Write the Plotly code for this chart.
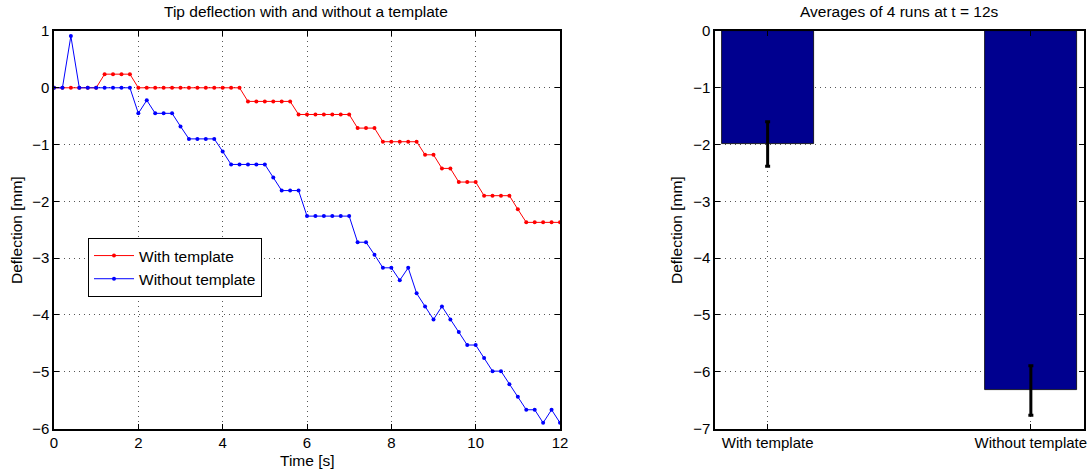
import numpy as np
import plotly.graph_objects as go

# ---- data ----
time_s = [round(0.2 * i, 1) for i in range(61)]

with_template = (
    [0, 0, 0, 0, 0, 0] +                      # 0.0-1.0
    [0.24, 0.24, 0.24, 0.24] +                # 1.2-1.8
    [0] * 13 +                                # 2.0-4.4
    [-0.24] * 6 +                             # 4.6-5.6
    [-0.47] * 7 +                             # 5.8-7.0
    [-0.71] * 3 +                             # 7.2-7.6
    [-0.95] * 5 +                             # 7.8-8.6
    [-1.18] * 2 +                             # 8.8-9.0
    [-1.42] * 2 +                             # 9.2-9.4
    [-1.66] * 3 +                             # 9.6-10.0
    [-1.90] * 4 +                             # 10.2-10.8
    [-2.14] +                                 # 11.0
    [-2.37] * 5                               # 11.2-12.0
)

without_template = [
    0, 0, 0.91, 0, 0, 0, 0, 0, 0, 0,          # 0.0-1.8
    -0.45, -0.22, -0.45, -0.45, -0.45,        # 2.0-2.8
    -0.68, -0.90, -0.90, -0.90, -0.90,        # 3.0-3.8
    -1.12, -1.35, -1.35, -1.35, -1.35, -1.35, # 4.0-5.0
    -1.58, -1.81, -1.81, -1.81,               # 5.2-5.8
    -2.26, -2.26, -2.26, -2.26, -2.26, -2.26, # 6.0-7.0
    -2.72, -2.72, -2.94, -3.17, -3.17,        # 7.2-8.0
    -3.39, -3.17, -3.62, -3.85, -4.08,        # 8.2-9.0
    -3.85, -4.08, -4.30, -4.53, -4.53,        # 9.2-10.0
    -4.76, -4.99, -4.99, -5.22, -5.44,        # 10.2-11.0
    -5.67, -5.67, -5.90, -5.67, -5.90,        # 11.2-12.0
]

bar_categories = ["With template", "Without template"]
bar_positions = [1, 2]
bar_means = [-1.99, -6.33]
bar_errors = [0.39, 0.435]

x_ticks = [0, 2, 4, 6, 8, 10, 12]
y_ticks_left = [-6, -5, -4, -3, -2, -1, 0, 1]
y_ticks_right = [-7, -6, -5, -4, -3, -2, -1, 0]

# ---- figure ----
W, H = 1089, 473
FONT = "Liberation Sans, Arial, Helvetica, sans-serif"

fig = go.Figure()

fig.add_trace(go.Scatter(
    x=time_s, y=with_template, mode="lines+markers", name="With template",
    line=dict(color="#ff0000", width=1), marker=dict(color="#ff0000", size=4),
    xaxis="x", yaxis="y"))
fig.add_trace(go.Scatter(
    x=time_s, y=without_template, mode="lines+markers", name="Without template",
    line=dict(color="#0000ff", width=1), marker=dict(color="#0000ff", size=4),
    xaxis="x", yaxis="y"))

fig.add_trace(go.Bar(
    x=bar_positions, y=bar_means, width=0.35, showlegend=False,
    marker=dict(color="#00008f", line=dict(color="#000000", width=0.8)),
    error_y=dict(type="data", array=bar_errors, color="#000000", thickness=3, width=2.5),
    xaxis="x2", yaxis="y2"))

def px_x(p):
    return p / W

def px_y(p):
    return 1 - p / H

grid = dict(showgrid=True, gridcolor="#555555", gridwidth=1, griddash="1px,4px")
common = dict(showline=True, linecolor="#000000", linewidth=1.5, mirror="ticks",
              ticks="inside", ticklen=5, tickcolor="#000000", zeroline=False,
              automargin=False,
              tickfont=dict(family=FONT, size=15, color="#000000"), **grid)

fig.update_layout(
    width=W, height=H,
    margin=dict(l=0, r=0, t=0, b=0, autoexpand=False),
    paper_bgcolor="white", plot_bgcolor="white",
    font=dict(family=FONT, size=15, color="#000000"),
    bargap=0,
    hovermode=False,
    xaxis=dict(domain=[px_x(54), px_x(560)], range=[0, 12], tickvals=x_ticks,
               anchor="y", **common),
    yaxis=dict(domain=[px_y(428.5), px_y(31)], range=[-6, 1], tickvals=y_ticks_left,
               anchor="x", **common),
    xaxis2=dict(domain=[px_x(715), px_x(1083.5)], range=[0.8, 2.2],
                tickvals=bar_positions, ticktext=bar_categories, anchor="y2", **common),
    yaxis2=dict(domain=[px_y(428.5), px_y(31)], range=[-7, 0], tickvals=y_ticks_right,
                anchor="x2", **common),
    legend=dict(x=px_x(88), y=px_y(238), xanchor="left", yanchor="top",
                bordercolor="#000000", borderwidth=1, bgcolor="white",
                font=dict(family=FONT, size=15.5), tracegroupgap=0,
                itemwidth=40),
    showlegend=True,
)

def label(text, x, y, size, angle=0):
    return dict(text=text, x=px_x(x), y=px_y(y), xref="paper", yref="paper",
                xanchor="center", yanchor="middle", showarrow=False,
                textangle=angle, font=dict(family=FONT, size=size, color="#000000"))

ann = [
    label("Tip deflection with and without a template", 306, 12, 15.5),
    label("Averages of 4 runs at t = 12s", 899, 12, 15.5),
    label("Time [s]", 307, 460, 15.5),
    label("Deflection [mm]", 17, 230, 15.5, -90),
    label("Deflection [mm]", 677, 230, 15.5, -90),
]
fig.update_layout(annotations=ann)

fig.write_html("out.html", config={"displayModeBar": False},
               post_script="document.body.style.margin='0px';")
